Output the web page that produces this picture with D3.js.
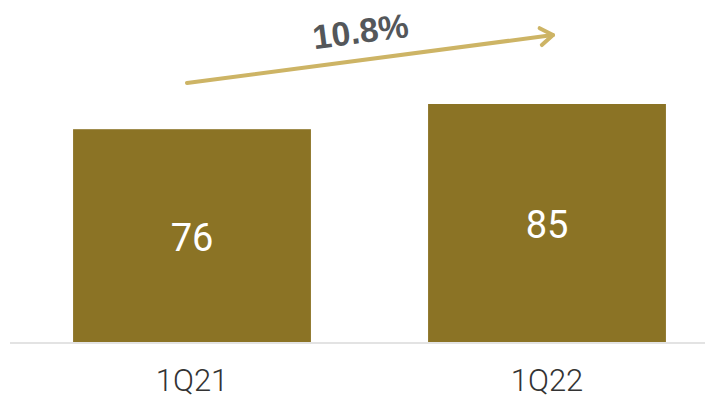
<!DOCTYPE html>
<html lang="en">
<head>
<meta charset="UTF-8">
<title>1Q21 vs 1Q22</title>
<style>
  body { margin: 0; background: #fff; }
  .bar { fill: #8b7325; }
  .axis-x text { font-family: Roboto, "Liberation Sans", sans-serif; font-weight: 300; font-size: 31px; fill: #333; }
  .value { font-family: Roboto, "Liberation Sans", sans-serif; font-weight: 400; font-size: 38px; fill: #fff; }
  .growth { font-family: "Liberation Sans", Arial, sans-serif; font-weight: bold; font-size: 34px; fill: #54575a; }
  .arrow { stroke: #cdb465; stroke-width: 4; fill: none; stroke-linecap: round; stroke-linejoin: round; }
</style>
<script src="https://d3js.org/d3.v7.min.js"></script>
</head>
<body>
<script>
  const categories = ["1Q21", "1Q22"];
  const values = [76, 85];
  const growthLabel = "10.8%";

  const width = 705;
  const height = 403;
  const baseline = 342;

  const svg = d3.select("body")
    .append("svg")
    .attr("width", width)
    .attr("height", height);

  const x = d3.scaleBand()
    .domain(categories)
    .range([14.5, 724.5])
    .paddingInner(0.33)
    .paddingOuter(0.165);

  const y = d3.scaleLinear()
    .domain([0, 85])
    .range([baseline, 104]);

  svg.selectAll(".bar")
    .data(values)
    .enter()
    .append("rect")
    .attr("class", "bar")
    .attr("x", (d, i) => x(categories[i]))
    .attr("y", d => y(d))
    .attr("width", x.bandwidth())
    .attr("height", d => baseline - y(d));

  svg.selectAll(".value")
    .data(values)
    .enter()
    .append("text")
    .attr("class", "value")
    .attr("text-anchor", "middle")
    .attr("x", (d, i) => x(categories[i]) + x.bandwidth() / 2)
    .attr("y", d => (y(d) + baseline) / 2 + 15)
    .text(d => d);

  // axis line across the whole width
  svg.append("line")
    .attr("x1", 10).attr("x2", width)
    .attr("y1", baseline + 1).attr("y2", baseline + 1)
    .attr("stroke", "#e3e3e3")
    .attr("stroke-width", 2);

  const xAxis = svg.append("g")
    .attr("class", "axis-x")
    .attr("transform", `translate(0,${baseline})`)
    .call(d3.axisBottom(x).tickSize(0).tickPadding(27));
  xAxis.select(".domain").remove();

  // growth arrow
  const x0 = 187, y0 = 83, x1 = 553, y1 = 35;
  const ang = Math.atan2(y1 - y0, x1 - x0);
  const head = 15;
  svg.append("line")
    .attr("class", "arrow")
    .attr("x1", x0).attr("y1", y0)
    .attr("x2", x1).attr("y2", y1);
  svg.append("path")
    .attr("class", "arrow")
    .attr("d", `M${x1 - head * Math.cos(ang - 0.6)},${y1 - head * Math.sin(ang - 0.6)}L${x1},${y1}L${x1 - head * Math.cos(ang + 0.6)},${y1 - head * Math.sin(ang + 0.6)}`);

  svg.append("text")
    .attr("class", "growth")
    .attr("text-anchor", "middle")
    .attr("transform", `translate(362,43) rotate(${ang * 180 / Math.PI})`)
    .text(growthLabel);
</script>
</body>
</html>
